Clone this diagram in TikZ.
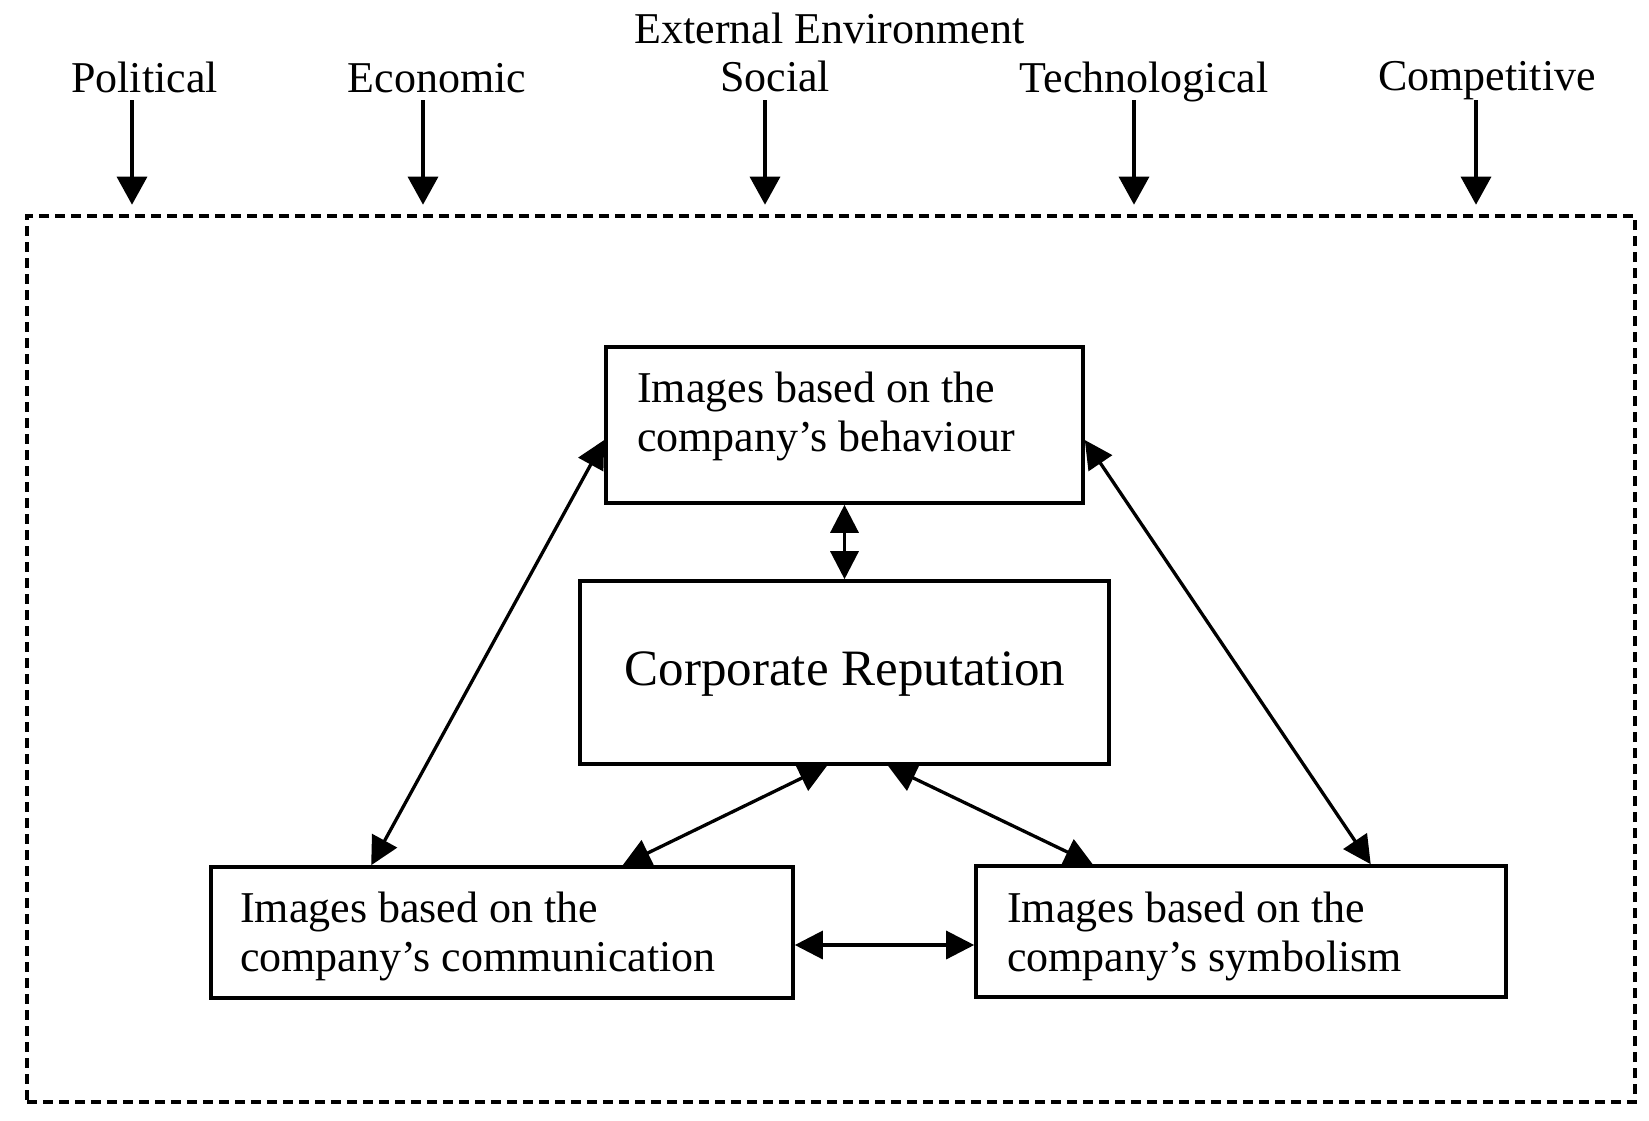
\documentclass[tikz,border=0pt]{standalone}
\usepackage{fontspec}
\setmainfont{Liberation Serif}
\usetikzlibrary{arrows.meta,calc}
\begin{document}
\begin{tikzpicture}[x=1pt,y=-1pt,
  box/.style={draw, line width=3.6pt, inner sep=0pt},
  envbox/.style={draw, line width=3.6pt, dash pattern=on 10pt off 6pt, inner sep=0pt},
  lbl/.style={font=\fontsize{44}{49}\selectfont, inner sep=0pt, anchor=base},
  boxtext/.style={font=\fontsize{44}{49}\selectfont, inner sep=0pt, anchor=base west, align=left},
  bigtext/.style={font=\fontsize{51}{56}\selectfont, inner sep=0pt, anchor=base},
  conn/.style={line width=3.3pt, {Triangle[length=28pt,width=28pt]}-{Triangle[length=28pt,width=28pt]}},
  down/.style={line width=3.3pt, -{Triangle[length=28pt,width=30pt]}}
]
\useasboundingbox[fill=white] (0,0) rectangle (1649,1120);

% external environment frame
\node[envbox, minimum width=1608pt, minimum height=886pt] (env) at (831,659) {};

% top labels
\node[lbl] (ext) at (829.5,43) {External Environment};
\node[lbl] (pol) at (144.5,92) {Political};
\node[lbl] (eco) at (437,92) {Economic};
\node[lbl] (soc) at (775,91) {Social};
\node[lbl] (tec) at (1144,92) {Technological};
\node[lbl] (com) at (1487,90) {Competitive};

\coordinate (pa) at (132,100);
\coordinate (ea) at (423,100);
\coordinate (sa) at (765,100);
\coordinate (ta) at (1134,100);
\coordinate (ca) at (1476,100);
\foreach \c in {pa,ea,sa,ta,ca}
  \draw[down, shorten >=9.5pt] (\c) -- (\c |- env.north);

% boxes
\node[box, minimum width=477pt, minimum height=156pt] (beh) at (844.5,425) {};
\node[box, minimum width=529pt, minimum height=183pt] (corp) at (844.5,672.5) {};
\node[box, minimum width=582pt, minimum height=131pt] (comm) at (502,932.5) {};
\node[box, minimum width=530pt, minimum height=131pt] (sym) at (1241,931.5) {};

% text (anchor = baseline of the last line)
\node[boxtext] (behT) at (637,451) {Images based on the\\company’s behaviour};
\node[bigtext] (corpT) at (845,685) {Corporate Reputation};
\node[boxtext] (commT) at (240,971) {Images based on the\\company’s communication};
\node[boxtext] (symT) at (1007,971) {Images based on the\\company’s symbolism};

% connectors
\draw[conn] ([yshift=-15pt]beh.west) -- ([xshift=162pt]comm.north west);
\draw[conn] ([yshift=-15pt]beh.east) -- ([xshift=396.5pt]sym.north west);
\draw[conn] (beh.south) -- (corp.north);
\draw[conn] ([xshift=-17.5pt]corp.south) -- ([xshift=413.5pt]comm.north west);
\draw[conn] ([xshift=43.5pt]corp.south) -- ([xshift=118.5pt]sym.north west);
\coordinate (h1) at ([yshift=-12.5pt]comm.east);
\draw[conn] (h1) -- (h1 -| sym.west);
\end{tikzpicture}
\end{document}
